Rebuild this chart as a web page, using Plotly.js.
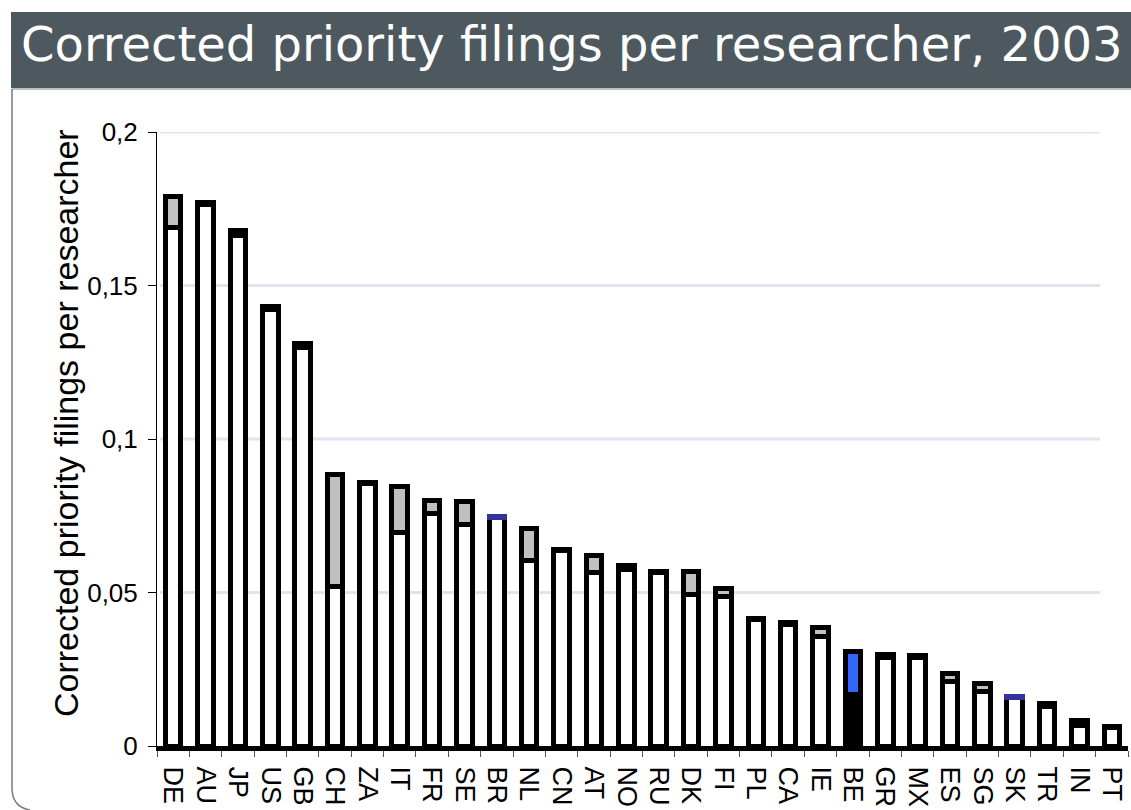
<!DOCTYPE html>
<html>
<head>
<meta charset="utf-8">
<script src="https://cdn.plot.ly/plotly-3.0.1.min.js"></script>
<style>
html,body{margin:0;padding:0;background:#fff;}
#chart{width:1131px;height:810px;}
</style>
</head>
<body>
<div id="chart"></div>
<script>
// ---- Data ----
const countries = ['DE','AU','JP','US','GB','CH','ZA','IT','FR','SE','BR','NL','CN','AT','NO','RU','DK','FI','PL','CA','IE','BE','GR','MX','ES','SG','SK','TR','IN','PT'];
const baseValues = [0.1690,0.1763,0.1663,0.1423,0.1298,0.0520,0.0855,0.0694,0.0758,0.0721,0.0744,0.0604,0.0637,0.0565,0.0576,0.0564,0.0493,0.0487,0.0411,0.0397,0.0358,0.0168,0.0288,0.0288,0.0210,0.0178,0.0158,0.0128,0.0068,0.0060];
const topValues  = [0.0100,0.0007,0.0015,0.0009,0.0013,0.0364,0.0003,0.0152,0.0043,0.0074,0.0002,0.0104,0.0003,0.0057,0.0013,0.0003,0.0076,0.0026,0.0003,0.0005,0.0027,0.0139,0.0011,0.0006,0.0026,0.0026,0.0002,0.0011,0.0015,0.0004];
const highlightCountry = 'BE';
const blueLineCountries = ['BR','SK'];
const yTickValues = [0, 0.05, 0.1, 0.15, 0.2];
const chartTitle = 'Corrected priority filings per researcher, 2003';
const yAxisTitle = 'Corrected priority filings per researcher';

// ---- Styles ----
const baseColors = countries.map(c => c === highlightCountry ? '#000000' : '#ffffff');
const topColors = countries.map(c => c === highlightCountry ? '#3366ff' : (blueLineCountries.includes(c) ? '#333399' : '#c0c0c0'));
const topLineColors = countries.map(c => blueLineCountries.includes(c) ? '#333399' : '#000000');

// plot area in pixels: x 157..1128, y 132..746
const L = 157, R = 1128, T = 132, B = 746;
const px = p => (p - L) / (R - L);
const py = p => (B - p) / (B - T);

const traces = [
  {
    type: 'bar', x: countries, y: baseValues,
    marker: {color: baseColors, line: {color: '#000000', width: 5}},
    hoverinfo: 'x+y', showlegend: false
  },
  {
    type: 'bar', x: countries, y: topValues,
    marker: {color: topColors, line: {color: topLineColors, width: 5}},
    hoverinfo: 'x+y', showlegend: false
  }
];

const shapes = [
  // title bar
  {type: 'rect', xref: 'paper', yref: 'paper', x0: px(11), x1: px(1131), y0: py(88), y1: py(12),
   fillcolor: '#4d585f', line: {width: 0}, layer: 'below'},
  // line under title bar
  {type: 'line', xref: 'paper', yref: 'paper', x0: px(12), x1: px(1131), y0: py(89), y1: py(89),
   line: {color: '#a8a8a8', width: 1.5}, layer: 'below'},
  // panel left border with rounded corner
  {type: 'path', xref: 'paper', yref: 'paper',
   path: `M ${px(12)},${py(89)} L ${px(12)},${py(788)} Q ${px(12)},${py(807)} ${px(30)},${py(810)}`,
   line: {color: '#7a7a7a', width: 1.5}, layer: 'below'}
];
yTickValues.filter(v => v > 0).forEach(v => {
  shapes.push({type: 'line', xref: 'paper', yref: 'y', x0: px(160), x1: px(1100), y0: v, y1: v,
               line: {color: '#e1e4ef', width: 3}, layer: 'below'});
});

const layout = {
  width: 1131, height: 810,
  margin: {l: L, r: 1131 - R, t: T, b: 810 - B, pad: 0},
  paper_bgcolor: '#ffffff', plot_bgcolor: '#ffffff',
  separators: ', ',
  barmode: 'stack', bargap: 0.52,
  showlegend: false,
  font: {family: 'Liberation Sans, Arial, sans-serif', color: '#000000'},
  title: {
    text: chartTitle,
    font: {family: 'DejaVu Sans, Verdana, sans-serif', size: 48, color: '#ffffff'},
    xref: 'container', yref: 'container', x: 21 / 1131, xanchor: 'left',
    y: 1 - 44 / 810, yanchor: 'middle'
  },
  xaxis: {
    type: 'category', range: [-0.5, countries.length - 0.5], fixedrange: true,
    tickmode: 'linear', tick0: 0, dtick: 1,
    tickangle: 90, tickfont: {family: 'Liberation Sans, Arial, sans-serif', size: 27, color: '#000'},
    ticklabelstandoff: 10,
    showline: true, linecolor: '#000000', linewidth: 5,
    ticks: 'outside', tickson: 'boundaries', ticklen: 6, tickcolor: '#555555', tickwidth: 1,
    showgrid: false, zeroline: false, automargin: false
  },
  yaxis: {
    range: [0, 0.2], fixedrange: true, tickvals: yTickValues,
    tickfont: {family: 'Liberation Sans, Arial, sans-serif', size: 26, color: '#000'},
    ticklabelstandoff: 5,
    ticks: 'outside', ticklen: 8, tickcolor: '#000000', tickwidth: 1,
    showline: true, linecolor: '#000000', linewidth: 1,
    showgrid: false, zeroline: false, automargin: false
  },
  annotations: [
    {text: yAxisTitle, textangle: -90, xref: 'paper', yref: 'paper',
     x: px(66), y: py(423), xanchor: 'center', yanchor: 'middle', showarrow: false,
     font: {family: 'Liberation Sans, Arial, sans-serif', size: 34, color: '#000'}}
  ],
  shapes: shapes
};

Plotly.newPlot('chart', traces, layout, {displayModeBar: false, staticPlot: true});
</script>
</body>
</html>
